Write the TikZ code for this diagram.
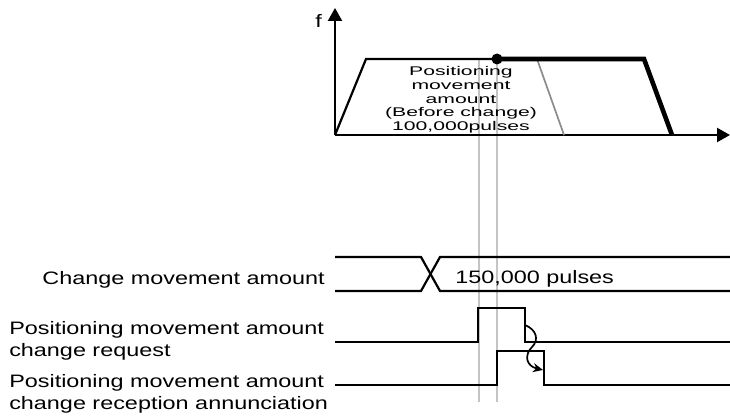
\documentclass[tikz,border=0pt]{standalone}
\usepackage{fontspec}
\setmainfont{Liberation Sans}
\usetikzlibrary{arrows.meta}
\definecolor{guidegray}{HTML}{C4C4C4}
\definecolor{oldgray}{HTML}{8C8C8C}
\begin{document}
\begin{tikzpicture}[x=1pt,y=-1pt,
  lbl/.style={font=\fontsize{18}{22}\selectfont, inner sep=0pt, xscale=1.3},
  toplbl/.style={font=\fontsize{12.6}{13.6}\selectfont, inner sep=0pt, xscale=1.68, align=center},
  axisline/.style={line width=2.2pt, -{Triangle[length=13pt,width=14pt]}},
  prof/.style={line width=2.2pt, line join=miter},
  oldprof/.style={line width=1.7pt, draw=oldgray},
  newprof/.style={line width=4.6pt, line join=miter},
  guide/.style={line width=2pt, draw=guidegray},
  sig/.style={line width=2.2pt, line join=miter},
  curv/.style={line width=1.7pt, -{Stealth[length=10pt,width=9pt]}}
]
\useasboundingbox (0,0) rectangle (730,417);
% guide lines
\draw[guide] (479,59) -- (479,402);
\draw[guide] (497,59) -- (497,402);
% axes
\coordinate (o) at (335,135);
\coordinate (ytip) at (335,8);
\coordinate (xtip) at (730,135);
\draw[axisline] (o) -- (ytip);
\draw[axisline] (o) -- (xtip);
\node[lbl, anchor=base] (f) at (318.5,28) {f};
% profiles
\draw[prof] (o) -- (366,59) -- (644,59);
\draw[oldprof] (537,59) -- (564,135);
\coordinate (chg) at (497,59);
\draw[newprof] (chg) -- (644,59) -- (672,135);
\fill (chg) circle[radius=5.5pt];
\node[toplbl, anchor=north] (pma) at (461,66.5) {Positioning\\movement\\amount\\(Before change)\\100,000pulses};
% labels
\node[lbl, anchor=base east] (cma) at (325,284) {Change movement amount};
\node[lbl, anchor=north west, align=left] (req) at (9,321.5) {Positioning movement amount\\change request};
\node[lbl, anchor=north west, align=left] (ann) at (9,374) {Positioning movement amount\\change reception annunciation};
% signals
\draw[sig] (335,257) -- (421,257) -- (440,291) -- (730,291);
\draw[sig] (335,291) -- (421,291) -- (440,257) -- (730,257);
\node[lbl, anchor=base west] (val) at (455,283) {150,000 pulses};
\draw[sig] (335,342) -- (478,342) -- (478,308) -- (525,308) -- (525,342) -- (730,342);
\draw[sig] (335,385) -- (497,385) -- (497,351) -- (544,351) -- (544,385) -- (730,385);
% handshake arrow
\coordinate (rfall) at (525,325);
\coordinate (afall) at (543,370);
\draw[curv] (rfall) .. controls (537,330) and (539,340) .. (532,347) .. controls (524,355) and (526,366) .. (afall);
\end{tikzpicture}
\end{document}
